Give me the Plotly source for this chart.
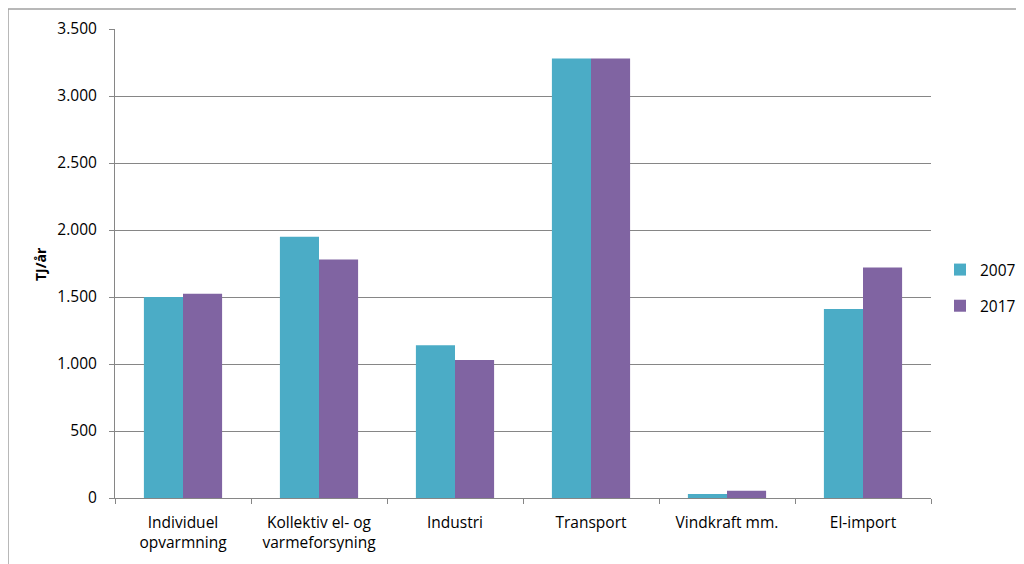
import plotly.graph_objects as go

categories = ["Individuel<br>opvarmning", "Kollektiv el- og<br>varmeforsyning", "Industri",
              "Transport", "Vindkraft mm.", "El-import"]
values_2007 = [1500, 1950, 1140, 3280, 30, 1410]
values_2017 = [1525, 1780, 1030, 3280, 55, 1720]
tick_vals = [0, 500, 1000, 1500, 2000, 2500, 3000, 3500]
tick_text = ["0", "500", "1.000", "1.500", "2.000", "2.500", "3.000", "3.500"]

FONT = "Open Sans, sans-serif"
FS = 15.5

fig = go.Figure()
fig.add_trace(go.Bar(x=categories, y=values_2007, name="2007", marker_color="#4BACC6",
                     marker_line_width=0, legendgroup="a"))
fig.add_trace(go.Bar(x=categories, y=values_2017, name="2017", marker_color="#8064A2",
                     marker_line_width=0, legendgroup="b"))

# page body has an 8px margin: screen coords = figure coords + 8
OFF = 8
W, H = 1016, 556
L, R, T, B = 115 - OFF, 931 - OFF, 29 - OFF, 498 - OFF
pw, ph = R - L, B - T

def px(xs):
    return (xs - OFF - L) / pw

def py(ys):
    return (B - (ys - OFF)) / ph

fig.update_layout(
    width=W, height=H,
    margin=dict(l=L, r=W - R, t=T, b=H - B, autoexpand=False),
    paper_bgcolor="white", plot_bgcolor="white",
    barmode="group", bargap=0.425, bargroupgap=0,
    font=dict(family=FONT, size=FS, color="#000000"),
    showlegend=True,
    legend=dict(x=px(940), y=py(288), xanchor="left", yanchor="middle",
                font=dict(size=FS, color="#000000"), tracegroupgap=13,
                traceorder="grouped", itemwidth=30),
    xaxis=dict(showgrid=False, showline=True, linecolor="#868686", linewidth=1,
               ticks="outside", tickson="boundaries", ticklen=5, tickcolor="#868686",
               tickfont=dict(size=FS), range=[-0.5, 5.5], ticklabelstandoff=10),
    yaxis=dict(range=[0, 3500], tickvals=tick_vals, ticktext=tick_text,
               showgrid=True, gridcolor="#868686", gridwidth=1,
               showline=True, linecolor="#868686", linewidth=1,
               ticks="outside", ticklen=5, tickcolor="#868686",
               tickfont=dict(size=FS), zeroline=False, ticklabelstandoff=9),
    annotations=[dict(text="<b>TJ/år</b>", x=px(40), y=py(264), xref="paper", yref="paper",
                      textangle=-90, showarrow=False, font=dict(size=FS - 1.5),
                      xanchor="center", yanchor="middle")],
    shapes=[
        dict(type="line", xref="paper", yref="paper", x0=px(8), x1=px(1030),
             y0=py(9), y1=py(9), line=dict(color="#A0A0A0", width=1.5)),
        dict(type="line", xref="paper", yref="paper", x0=px(8), x1=px(8),
             y0=py(9), y1=py(570), line=dict(color="#A0A0A0", width=1.5)),
    ],
)

fig.write_html("out.html")
